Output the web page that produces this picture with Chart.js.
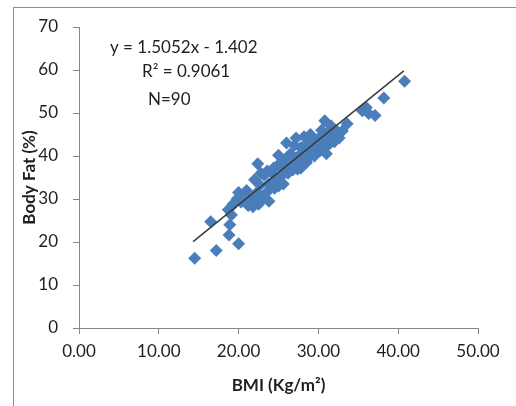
<!DOCTYPE html>
<html>
<head>
<meta charset="utf-8">
<script src="https://cdn.jsdelivr.net/npm/chart.js@4.4.1/dist/chart.umd.min.js"></script>
<style>
  html, body { margin: 0; padding: 0; background: #fff; }
  #wrap { position: relative; width: 516px; height: 406px; }
  #frame { position: absolute; left: 13px; top: 7px; right: 0; bottom: 0;
           border-left: 1px solid #8e8e8e; border-top: 1px solid #8e8e8e; pointer-events: none; }
  canvas { position: absolute; left: 0; top: 0; }
</style>
</head>
<body>
<div id="wrap">
  <canvas id="c" width="516" height="406"></canvas>
  <div id="frame"></div>
</div>
<script>
// BMI (Kg/m²) values
const bmi = [
  14.5, 17.2, 16.5, 20.0, 18.8, 18.9, 19.1, 22.4, 40.8, 38.2,
  36.0, 36.3, 37.1, 33.6, 32.6, 30.8, 31.6, 18.7, 19.3, 19.8,
  20.3, 20.8, 21.2, 21.5, 21.8, 22.0, 22.3, 22.5, 22.0, 22.7,
  23.0, 23.2, 23.5, 23.8, 23.8, 24.2, 24.5, 24.6, 24.9, 25.0,
  25.2, 25.5, 25.6, 25.8, 26.0, 26.2, 26.5, 26.5, 26.8, 27.0,
  27.0, 27.2, 27.4, 27.5, 27.8, 27.8, 28.0, 28.2, 28.3, 28.5,
  28.7, 28.9, 29.0, 29.2, 29.4, 29.6, 29.8, 30.0, 30.2, 30.4,
  30.6, 30.8, 31.0, 31.2, 31.5, 31.8, 32.2, 24.4, 23.6, 21.0,
  20.0, 19.5, 26.0, 25.0, 22.8, 29.5, 31.0, 32.0, 33.0, 35.5
];
// Body fat (%) values
const bodyFat = [
  16.2, 18.0, 24.7, 19.6, 21.6, 24.0, 26.3, 38.2, 57.4, 53.5,
  51.3, 49.9, 49.4, 47.5, 44.2, 48.2, 47.0, 27.5, 28.8, 30.0,
  29.3, 30.8, 28.5, 30.0, 28.2, 29.8, 31.5, 28.8, 34.5, 33.2,
  30.0, 35.5, 31.5, 33.5, 29.5, 36.0, 32.5, 34.2, 37.8, 33.0,
  35.0, 38.2, 33.5, 36.5, 39.5, 36.0, 37.5, 40.5, 36.8, 38.8,
  42.5, 44.2, 37.0, 40.0, 37.2, 42.0, 38.5, 44.5, 41.0, 38.5,
  43.0, 39.8, 45.0, 41.8, 40.5, 43.5, 42.0, 44.0, 41.2, 46.0,
  42.5, 44.5, 42.2, 45.5, 43.0, 44.8, 46.0, 37.2, 36.5, 32.0,
  31.5, 29.0, 43.0, 40.2, 36.0, 40.0, 40.5, 43.3, 45.8, 50.5
];
// Linear trendline end points (as drawn)
const trendX = [14.3, 40.7];
const trendY = [20.1, 59.8];
const xTicks = [0, 10, 20, 30, 40, 50];
const yTicks = [0, 10, 20, 30, 40, 50, 60, 70];
const annotationLines = ['y = 1.5052x - 1.402', 'R\u00B2 = 0.9061', 'N=90'];
const xTitle = 'BMI (Kg/m\u00B2)';
const yTitle = 'Body Fat (%)';

const FONT = 'Lato, "Liberation Sans", sans-serif';
const axisColor = '#868686';
const textColor = '#1f1f1f';

const points = bmi.map((x, i) => ({ x: x, y: bodyFat[i] }));
const trend = trendX.map((x, i) => ({ x: x, y: trendY[i] }));

const annotationPlugin = {
  id: 'eqText',
  afterDraw(chart) {
    const ctx = chart.ctx;
    ctx.save();
    ctx.fillStyle = textColor;
    ctx.font = '17px ' + FONT;
    ctx.textBaseline = 'middle';
    ctx.textAlign = 'left';
    ctx.fillText(annotationLines[0], 110, 48);
    ctx.fillText(annotationLines[1], 142, 72);
    ctx.fillText(annotationLines[2], 148, 100);
    ctx.restore();
  }
};

new Chart(document.getElementById('c'), {
  type: 'scatter',
  data: {
    datasets: [
      {
        type: 'line',
        data: trend,
        borderColor: '#3a3a3a',
        borderWidth: 1.5,
        pointRadius: 0,
        fill: false,
        tension: 0
      },
      {
        data: points,
        pointStyle: 'rectRot',
        pointRadius: 6.5,
        pointHoverRadius: 6.5,
        backgroundColor: '#4a7ebb',
        borderColor: '#4a7ebb',
        borderWidth: 0
      }
    ]
  },
  options: {
    responsive: false,
    animation: false,
    events: [],
    layout: { padding: { left: 15, right: 38, top: 27, bottom: 6 } },
    plugins: { legend: { display: false }, tooltip: { enabled: false } },
    scales: {
      x: {
        type: 'linear',
        min: 0, max: 50,
        afterBuildTicks(s) { s.ticks = xTicks.map(v => ({ value: v })); },
        afterFit(s) { s.height = 406 - 6 - 328; },
        ticks: {
          color: textColor,
          font: { family: FONT, size: 17 },
          padding: 7,
          maxRotation: 0,
          callback: v => Number(v).toFixed(2)
        },
        grid: { display: true, drawOnChartArea: false, drawTicks: true, tickLength: 6, color: axisColor },
        border: { display: true, color: axisColor, width: 1 },
        title: { display: true, text: xTitle, color: textColor, font: { family: FONT, size: 17, weight: 'bold' }, padding: { top: 4, bottom: 4 } }
      },
      y: {
        type: 'linear',
        min: 0, max: 70,
        afterBuildTicks(s) { s.ticks = yTicks.map(v => ({ value: v })); },
        afterFit(s) { s.width = 79 - 15; },
        ticks: {
          color: textColor,
          font: { family: FONT, size: 17 },
          padding: 15
        },
        grid: { display: true, drawOnChartArea: false, drawTicks: true, tickLength: 6, color: axisColor },
        border: { display: true, color: axisColor, width: 1 },
        title: { display: true, text: yTitle, color: textColor, font: { family: FONT, size: 17, weight: 'bold' }, padding: { top: 4, bottom: 4 } }
      }
    }
  },
  plugins: [annotationPlugin]
});
</script>
</body>
</html>
